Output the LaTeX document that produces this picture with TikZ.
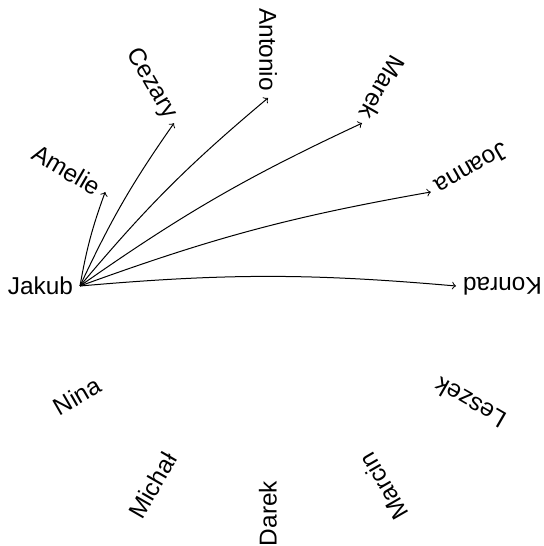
\documentclass[tikz,border=0pt]{standalone}
\usepackage{fontspec}
\setmainfont{Liberation Sans}
\usetikzlibrary{calc}
\begin{document}
\begin{tikzpicture}[x=0.5pt, y=0.5pt,
  person/.style={anchor=east, font=\fontsize{12.2}{14.5}\selectfont},
  link/.style={->, line width=0.5pt, bend left=5}]
\useasboundingbox (0,0) rectangle (544,546);
\coordinate (c) at (268,260);
% names placed around a circle, each reading outward from the centre
\foreach \id/\name/\ang in {konrad/Konrad/0, joanna/Joanna/30, marek/Marek/60,
  antonio/Antonio/90, cezary/Cezary/120, amelie/Amelie/150, jakub/Jakub/180,
  nina/Nina/210, michal/Michał/240, darek/Darek/270, marcin/Marcin/300,
  leszek/Leszek/330}
  \node[person, rotate=\ang+180] (\id) at ($(c)+(\ang:188)$) {\name};
% links from Jakub
\foreach \target in {amelie, cezary, antonio, marek, joanna, konrad}
  \draw[link] (jakub.east) to (\target.east);
\end{tikzpicture}
\end{document}
